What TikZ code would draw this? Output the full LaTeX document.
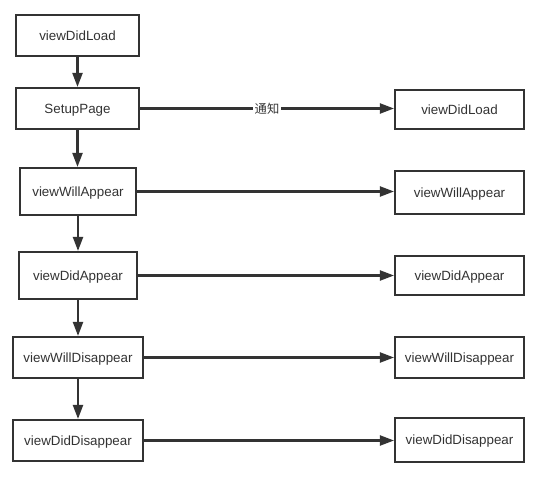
\documentclass[tikz,border=0pt]{standalone}
\usepackage{fontspec}
\setmainfont{Liberation Sans}
\newfontfamily\cjk{Noto Sans CJK SC}
\usetikzlibrary{arrows.meta}
\definecolor{linegray}{RGB}{51, 51, 51}
\begin{document}
\begin{tikzpicture}[
    box/.style={draw=linegray, line width=1.2pt, fill=white, text=linegray, inner sep=0pt, text height=6.4pt, text depth=1pt, font=\fontsize{7.6}{9}\selectfont},
    lbox/.style={box, minimum width=2.46cm, minimum height=0.82cm},
    rbox/.style={box, minimum width=2.58cm, minimum height=0.82cm},
    arr/.style={-{Triangle[length=0.28cm, width=0.2cm]}, draw=linegray, line width=1.2pt}
  ]
                    \useasboundingbox (0,0) rectangle (10.66,-9.54);

                    % Left column
                    \node[lbox] (loadL) at (1.55,-0.71) {viewDidLoad};
                    \node[lbox] (setup) at (1.55,-2.17) {SetupPage};
                    \node[lbox, minimum width=2.32cm, minimum height=0.94cm] (willAppL) at (1.56,-3.83) {viewWillAppear};
                    \node[lbox, minimum width=2.36cm, minimum height=0.94cm] (didAppL) at (1.56,-5.51) {viewDidAppear};
                    \node[lbox, minimum width=2.6cm] (willDisL) at (1.56,-7.15) {viewWillDisappear};
                    \node[lbox, minimum width=2.6cm] (didDisL) at (1.56,-8.81) {viewDidDisappear};

                    % Right column
                    \node[rbox, minimum height=0.78cm] (loadR) at (9.19,-2.19) {viewDidLoad};
                    \node[rbox, minimum height=0.86cm] (willAppR) at (9.19,-3.85) {viewWillAppear};
                    \node[rbox, minimum height=0.78cm] (didAppR) at (9.19,-5.51) {viewDidAppear};
                    \node[rbox] (willDisR) at (9.19,-7.15) {viewWillDisappear};
                    \node[rbox, minimum height=0.88cm] (didDisR) at (9.19,-8.80) {viewDidDisappear};

                    % Arrows down
                    \draw[arr] (loadL) -- (setup);
                    \draw[arr] (setup) -- (setup |- willAppL.north);
                    \draw[arr] (willAppL) -- (didAppL);
                    \draw[arr] (didAppL) -- (didAppL |- willDisL.north);
                    \draw[arr] (willDisL) -- (didDisL);

                    % Arrows across
                    \draw[arr] (setup.east) -- node[fill=white, inner sep=1pt, text=linegray, font=\cjk\fontsize{7}{8}\selectfont, pos=0.5] (notify) {通知} (setup.east -| loadR.west);
                    \draw[arr] (willAppL.east) -- (willAppL.east -| willAppR.west);
                    \draw[arr] (didAppL.east) -- (didAppL.east -| didAppR.west);
                    \draw[arr] (willDisL.east) -- (willDisL.east -| willDisR.west);
                    \draw[arr] (didDisL.east) -- (didDisL.east -| didDisR.west);
                \end{tikzpicture}
\end{document}
